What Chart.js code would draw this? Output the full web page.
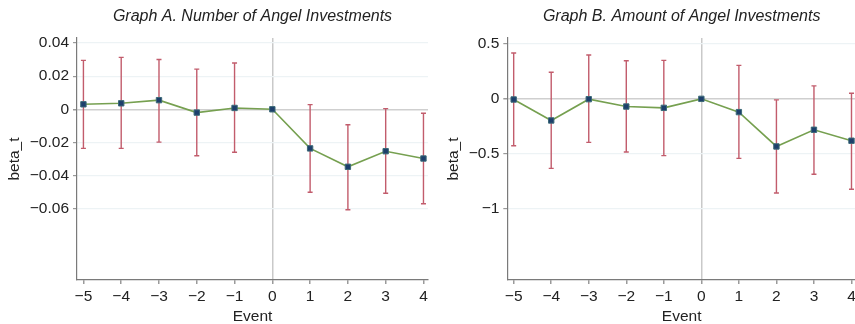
<!DOCTYPE html>
<html>
<head>
<meta charset="utf-8">
<script src="https://cdn.jsdelivr.net/npm/chart.js@4.4.1/dist/chart.umd.min.js"></script>
<style>
  html, body { margin: 0; padding: 0; background: #fff; overflow: hidden; }
  body { width: 855px; height: 324px; position: relative; }
  .panel { position: absolute; top: 0; height: 324px; }
  #panelA { left: 0; width: 440px; }
  #panelB { left: 428px; width: 440px; }
</style>
</head>
<body>
<div class="panel" id="panelA"><canvas id="chartA"></canvas></div>
<div class="panel" id="panelB"><canvas id="chartB"></canvas></div>
<script>
// event time
const events = [-5, -4, -3, -2, -1, 0, 1, 2, 3, 4];

// Graph A: number of angel investments
const betaA = [0.003, 0.0036, 0.0055, -0.002, 0.0008, 0, -0.0236, -0.0347, -0.0253, -0.0297];
const upperA = [0.0295, 0.0313, 0.030, 0.0242, 0.0279, null, 0.0028, -0.0093, 0.0004, -0.0024];
const lowerA = [-0.0236, -0.0236, -0.0198, -0.028, -0.0259, null, -0.0501, -0.0606, -0.0507, -0.057];
const yTicksA = [-0.06, -0.04, -0.02, 0, 0.02, 0.04];

// Graph B: amount of angel investments
const betaB = [-0.006, -0.197, -0.003, -0.07, -0.082, 0, -0.121, -0.434, -0.282, -0.382];
const upperB = [0.418, 0.242, 0.4, 0.348, 0.351, null, 0.305, -0.009, 0.118, 0.051];
const lowerB = [-0.427, -0.634, -0.397, -0.485, -0.518, null, -0.543, -0.858, -0.687, -0.825];
const yTicksB = [-1, -0.5, 0, 0.5];

const titleA = 'Graph A. Number of Angel Investments';
const titleB = 'Graph B. Amount of Angel Investments';

const FONT = 'Liberation Sans, Arial, Helvetica, sans-serif';

// draws the confidence intervals behind the line
const errorBars = {
  id: 'errorBars',
  beforeDatasetsDraw(chart, args, opts) {
    const ctx = chart.ctx;
    const x = chart.scales.x;
    const y = chart.scales.y;
    ctx.save();
    ctx.strokeStyle = '#c25c6c';
    ctx.lineWidth = 1.4;
    opts.lower.forEach((lo, i) => {
      const hi = opts.upper[i];
      if (lo === null || hi === null) return;
      const px = x.getPixelForValue(events[i]);
      const pLo = y.getPixelForValue(lo);
      const pHi = y.getPixelForValue(hi);
      ctx.beginPath();
      ctx.moveTo(px, pLo);
      ctx.lineTo(px, pHi);
      ctx.moveTo(px - 2.5, pLo);
      ctx.lineTo(px + 2.5, pLo);
      ctx.moveTo(px - 2.5, pHi);
      ctx.lineTo(px + 2.5, pHi);
      ctx.stroke();
    });
    ctx.restore();
  }
};

// italic title centred over the plot area
const panelTitle = {
  id: 'panelTitle',
  afterDraw(chart, args, opts) {
    const ctx = chart.ctx;
    const area = chart.chartArea;
    ctx.save();
    ctx.font = 'italic 16px ' + FONT;
    ctx.fillStyle = '#222';
    ctx.textAlign = 'center';
    ctx.textBaseline = 'middle';
    ctx.fillText(opts.text, (area.left + area.right) / 2, 17);
    ctx.restore();
  }
};

function fmt(v) {
  let s = String(Math.round(v * 1000) / 1000);
  return s.replace('-', '\u2212');
}

function makeChart(id, beta, upper, lower, yTicks, yMin, yMax, padLeft, yWidth, title) {
  const ctx = document.getElementById(id).getContext('2d');
  return new Chart(ctx, {
    type: 'line',
    data: {
      datasets: [{
        data: events.map((e, i) => ({ x: e, y: beta[i] })),
        borderColor: '#76a050',
        borderWidth: 1.6,
        pointStyle: 'rect',
        pointRadius: 3.8,
        pointBackgroundColor: '#1d3f6b',
        pointBorderColor: '#3c6a78',
        pointBorderWidth: 1,
        tension: 0
      }]
    },
    options: {
      responsive: true,
      maintainAspectRatio: false,
      animation: false,
      layout: { padding: { left: padLeft, right: 12, top: 38, bottom: 0 } },
      plugins: {
        legend: { display: false },
        tooltip: { enabled: false },
        errorBars: { upper: upper, lower: lower },
        panelTitle: { text: title }
      },
      scales: {
        x: {
          type: 'linear',
          min: -5.17,
          max: 4.12,
          afterBuildTicks: scale => { scale.ticks = events.map(v => ({ value: v })); },
          afterFit: scale => { scale.height = 44; },
          border: { color: '#7a7a7a', width: 1.2 },
          grid: {
            color: c => (c.tick && c.tick.value === 0 ? '#c9c9c9' : 'rgba(0,0,0,0)'),
            lineWidth: 1.5,
            tickLength: 4,
            tickColor: '#9a9a9a'
          },
          ticks: {
            font: { family: FONT, size: 15.5 },
            color: '#222',
            padding: 3,
            maxRotation: 0,
            callback: v => fmt(v)
          },
          title: {
            display: true,
            text: 'Event',
            font: { family: FONT, size: 15.5, lineHeight: 1 },
            color: '#222',
            padding: { top: 0, bottom: 0 }
          }
        },
        y: {
          min: yMin,
          max: yMax,
          afterBuildTicks: scale => { scale.ticks = yTicks.map(v => ({ value: v })); },
          afterFit: scale => { scale.width = yWidth; },
          border: { color: '#7a7a7a', width: 1.2 },
          grid: {
            color: c => (c.tick && c.tick.value === 0 ? '#cfcfcf' : '#edf3f5'),
            lineWidth: c => (c.tick && c.tick.value === 0 ? 1.5 : 1.2),
            tickLength: 4,
            tickColor: '#9a9a9a'
          },
          ticks: {
            font: { family: FONT, size: 15.5 },
            color: '#222',
            padding: 4,
            callback: v => fmt(v)
          },
          title: {
            display: true,
            text: 'beta_t',
            font: { family: FONT, size: 15.5, lineHeight: 1.2 },
            color: '#222',
            padding: { top: 5, bottom: 0 }
          }
        }
      }
    },
    plugins: [errorBars, panelTitle]
  });
}

makeChart('chartA', betaA, upperA, lowerA, yTicksA, -0.103, 0.043, 0, 77, titleA);
makeChart('chartB', betaB, upperB, lowerB, yTicksB, -1.652, 0.555, 11, 68.3, titleB);
</script>
</body>
</html>
